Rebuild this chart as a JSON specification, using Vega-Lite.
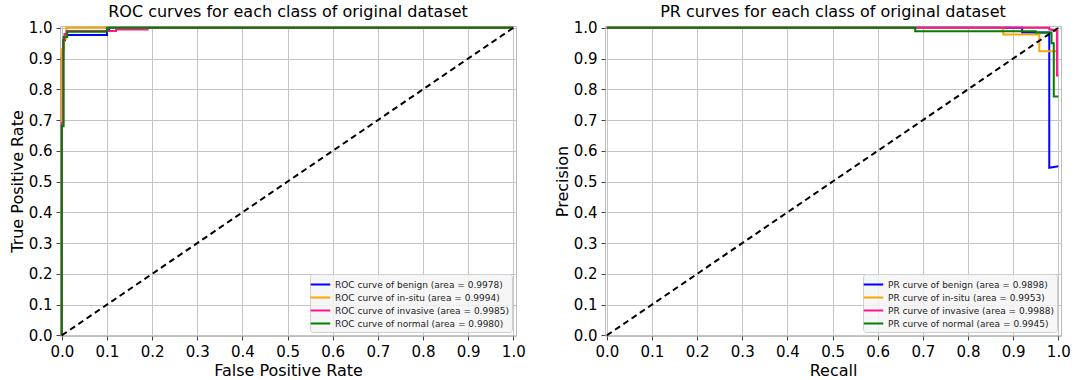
{
  "$schema": "https://vega.github.io/schema/vega-lite/v6.json",
  "background": "white",
  "padding": {"left": 8, "top": 3, "right": 5, "bottom": 2},
  "spacing": 27,
  "config": {
    "font": "DejaVu Sans",
    "view": {"stroke": "#bdbdbd", "strokeWidth": 1},
    "title": {"fontSize": 16, "fontWeight": "normal", "color": "black", "offset": 1, "font": "DejaVu Sans"},
    "axis": {
      "grid": true, "gridColor": "#c4c4c4", "gridWidth": 1,
      "domain": false, "tickColor": "#444", "tickSize": 4, "labelPadding": 4, "titlePadding": 3,
      "labelFontSize": 15, "labelColor": "black", "labelFont": "DejaVu Sans",
      "titleFontSize": 16, "titleColor": "black", "titleFontWeight": "normal", "titleFont": "DejaVu Sans",
      "labelFlush": false, "labelOverlap": false, "format": ".1f",
      "values": [0, 0.1, 0.2, 0.3, 0.4, 0.5, 0.6, 0.7, 0.8, 0.9, 1.0]
    },
    "legend": {
      "orient": "bottom-right", "offset": 4, "title": null,
      "fillColor": "rgba(245,245,245,0.85)", "strokeColor": "#d0d0d0", "cornerRadius": 3,
      "padding": 3, "rowPadding": 0, "labelFontSize": 9, "labelFont": "DejaVu Sans", "labelColor": "#222",
      "symbolType": "M-1.5,0H1.5", "symbolSize": 169, "symbolStrokeWidth": 2, "symbolFillColor": "transparent",
      "labelLimit": 400, "labelOffset": 7
    }
  },
  "datasets": {
    "curves": [
      {"panel": "ROC", "series": "ROC curve of benign (area = 0.9978)", "i": 0, "x": 0, "y": 0},
      {"panel": "ROC", "series": "ROC curve of benign (area = 0.9978)", "i": 1, "x": 0, "y": 0.9},
      {"panel": "ROC", "series": "ROC curve of benign (area = 0.9978)", "i": 2, "x": 0.003, "y": 0.9},
      {"panel": "ROC", "series": "ROC curve of benign (area = 0.9978)", "i": 3, "x": 0.003, "y": 0.96},
      {"panel": "ROC", "series": "ROC curve of benign (area = 0.9978)", "i": 4, "x": 0.007, "y": 0.96},
      {"panel": "ROC", "series": "ROC curve of benign (area = 0.9978)", "i": 5, "x": 0.007, "y": 0.977},
      {"panel": "ROC", "series": "ROC curve of benign (area = 0.9978)", "i": 6, "x": 0.1, "y": 0.977},
      {"panel": "ROC", "series": "ROC curve of benign (area = 0.9978)", "i": 7, "x": 0.1, "y": 0.99},
      {"panel": "ROC", "series": "ROC curve of benign (area = 0.9978)", "i": 8, "x": 0.105, "y": 0.99},
      {"panel": "ROC", "series": "ROC curve of benign (area = 0.9978)", "i": 9, "x": 0.105, "y": 1.0},
      {"panel": "ROC", "series": "ROC curve of benign (area = 0.9978)", "i": 10, "x": 1.0, "y": 1.0},

      {"panel": "ROC", "series": "ROC curve of in-situ (area = 0.9994)", "i": 0, "x": 0, "y": 0},
      {"panel": "ROC", "series": "ROC curve of in-situ (area = 0.9994)", "i": 1, "x": 0, "y": 0.93},
      {"panel": "ROC", "series": "ROC curve of in-situ (area = 0.9994)", "i": 2, "x": 0.005, "y": 0.93},
      {"panel": "ROC", "series": "ROC curve of in-situ (area = 0.9994)", "i": 3, "x": 0.005, "y": 0.965},
      {"panel": "ROC", "series": "ROC curve of in-situ (area = 0.9994)", "i": 4, "x": 0.01, "y": 0.965},
      {"panel": "ROC", "series": "ROC curve of in-situ (area = 0.9994)", "i": 5, "x": 0.01, "y": 1.0},
      {"panel": "ROC", "series": "ROC curve of in-situ (area = 0.9994)", "i": 6, "x": 1.0, "y": 1.0},

      {"panel": "ROC", "series": "ROC curve of invasive (area = 0.9985)", "i": 0, "x": 0, "y": 0},
      {"panel": "ROC", "series": "ROC curve of invasive (area = 0.9985)", "i": 1, "x": 0, "y": 0.69},
      {"panel": "ROC", "series": "ROC curve of invasive (area = 0.9985)", "i": 2, "x": 0.003, "y": 0.69},
      {"panel": "ROC", "series": "ROC curve of invasive (area = 0.9985)", "i": 3, "x": 0.003, "y": 0.96},
      {"panel": "ROC", "series": "ROC curve of invasive (area = 0.9985)", "i": 4, "x": 0.006, "y": 0.96},
      {"panel": "ROC", "series": "ROC curve of invasive (area = 0.9985)", "i": 5, "x": 0.006, "y": 0.98},
      {"panel": "ROC", "series": "ROC curve of invasive (area = 0.9985)", "i": 6, "x": 0.011, "y": 0.98},
      {"panel": "ROC", "series": "ROC curve of invasive (area = 0.9985)", "i": 7, "x": 0.011, "y": 0.99},
      {"panel": "ROC", "series": "ROC curve of invasive (area = 0.9985)", "i": 8, "x": 0.12, "y": 0.99},
      {"panel": "ROC", "series": "ROC curve of invasive (area = 0.9985)", "i": 9, "x": 0.12, "y": 0.995},
      {"panel": "ROC", "series": "ROC curve of invasive (area = 0.9985)", "i": 10, "x": 0.19, "y": 0.995},
      {"panel": "ROC", "series": "ROC curve of invasive (area = 0.9985)", "i": 11, "x": 0.19, "y": 1.0},
      {"panel": "ROC", "series": "ROC curve of invasive (area = 0.9985)", "i": 12, "x": 1.0, "y": 1.0},

      {"panel": "ROC", "series": "ROC curve of normal (area = 0.9980)", "i": 0, "x": 0, "y": 0},
      {"panel": "ROC", "series": "ROC curve of normal (area = 0.9980)", "i": 1, "x": 0, "y": 0.68},
      {"panel": "ROC", "series": "ROC curve of normal (area = 0.9980)", "i": 2, "x": 0.004, "y": 0.68},
      {"panel": "ROC", "series": "ROC curve of normal (area = 0.9980)", "i": 3, "x": 0.004, "y": 0.97},
      {"panel": "ROC", "series": "ROC curve of normal (area = 0.9980)", "i": 4, "x": 0.012, "y": 0.97},
      {"panel": "ROC", "series": "ROC curve of normal (area = 0.9980)", "i": 5, "x": 0.012, "y": 0.987},
      {"panel": "ROC", "series": "ROC curve of normal (area = 0.9980)", "i": 6, "x": 0.1, "y": 0.987},
      {"panel": "ROC", "series": "ROC curve of normal (area = 0.9980)", "i": 7, "x": 0.1, "y": 1.0},
      {"panel": "ROC", "series": "ROC curve of normal (area = 0.9980)", "i": 8, "x": 1.0, "y": 1.0},

      {"panel": "PR", "series": "PR curve of benign (area = 0.9898)", "i": 0, "x": 0, "y": 1.0},
      {"panel": "PR", "series": "PR curve of benign (area = 0.9898)", "i": 1, "x": 0.92, "y": 1.0},
      {"panel": "PR", "series": "PR curve of benign (area = 0.9898)", "i": 2, "x": 0.92, "y": 0.985},
      {"panel": "PR", "series": "PR curve of benign (area = 0.9898)", "i": 3, "x": 0.98, "y": 0.985},
      {"panel": "PR", "series": "PR curve of benign (area = 0.9898)", "i": 4, "x": 0.98, "y": 0.545},
      {"panel": "PR", "series": "PR curve of benign (area = 0.9898)", "i": 5, "x": 1.0, "y": 0.55},

      {"panel": "PR", "series": "PR curve of in-situ (area = 0.9953)", "i": 0, "x": 0, "y": 1.0},
      {"panel": "PR", "series": "PR curve of in-situ (area = 0.9953)", "i": 1, "x": 0.878, "y": 1.0},
      {"panel": "PR", "series": "PR curve of in-situ (area = 0.9953)", "i": 2, "x": 0.878, "y": 0.978},
      {"panel": "PR", "series": "PR curve of in-situ (area = 0.9953)", "i": 3, "x": 0.958, "y": 0.978},
      {"panel": "PR", "series": "PR curve of in-situ (area = 0.9953)", "i": 4, "x": 0.958, "y": 0.924},
      {"panel": "PR", "series": "PR curve of in-situ (area = 0.9953)", "i": 5, "x": 1.0, "y": 0.924},

      {"panel": "PR", "series": "PR curve of invasive (area = 0.9988)", "i": 0, "x": 0, "y": 1.0},
      {"panel": "PR", "series": "PR curve of invasive (area = 0.9988)", "i": 1, "x": 0.98, "y": 1.0},
      {"panel": "PR", "series": "PR curve of invasive (area = 0.9988)", "i": 2, "x": 0.98, "y": 0.995},
      {"panel": "PR", "series": "PR curve of invasive (area = 0.9988)", "i": 3, "x": 0.997, "y": 0.99},
      {"panel": "PR", "series": "PR curve of invasive (area = 0.9988)", "i": 4, "x": 0.997, "y": 0.845},
      {"panel": "PR", "series": "PR curve of invasive (area = 0.9988)", "i": 5, "x": 1.0, "y": 0.845},

      {"panel": "PR", "series": "PR curve of normal (area = 0.9945)", "i": 0, "x": 0, "y": 1.0},
      {"panel": "PR", "series": "PR curve of normal (area = 0.9945)", "i": 1, "x": 0.683, "y": 1.0},
      {"panel": "PR", "series": "PR curve of normal (area = 0.9945)", "i": 2, "x": 0.683, "y": 0.989},
      {"panel": "PR", "series": "PR curve of normal (area = 0.9945)", "i": 3, "x": 0.95, "y": 0.989},
      {"panel": "PR", "series": "PR curve of normal (area = 0.9945)", "i": 4, "x": 0.95, "y": 0.985},
      {"panel": "PR", "series": "PR curve of normal (area = 0.9945)", "i": 5, "x": 0.985, "y": 0.985},
      {"panel": "PR", "series": "PR curve of normal (area = 0.9945)", "i": 6, "x": 0.985, "y": 0.95},
      {"panel": "PR", "series": "PR curve of normal (area = 0.9945)", "i": 7, "x": 0.99, "y": 0.95},
      {"panel": "PR", "series": "PR curve of normal (area = 0.9945)", "i": 8, "x": 0.99, "y": 0.777},
      {"panel": "PR", "series": "PR curve of normal (area = 0.9945)", "i": 9, "x": 1.0, "y": 0.777}
    ],
    "chance": [
      {"i": 0, "x": 0, "y": 0},
      {"i": 1, "x": 1, "y": 1}
    ]
  },
  "hconcat": [
    {
      "width": 456,
      "height": 310,
      "title": "ROC curves for each class of original dataset",
      "layer": [
        {
          "data": {"name": "curves"},
          "transform": [{"filter": "datum.panel === 'ROC'"}],
          "mark": {"type": "line", "strokeWidth": 2, "clip": true, "interpolate": "linear"},
          "encoding": {
            "x": {"field": "x", "type": "quantitative", "scale": {"domain": [-0.004, 1.006], "nice": false, "zero": false}, "axis": {"title": "False Positive Rate"}},
            "y": {"field": "y", "type": "quantitative", "scale": {"domain": [-0.002, 1.006], "nice": false, "zero": false}, "axis": {"title": "True Positive Rate"}},
            "color": {
              "field": "series", "type": "nominal",
              "scale": {
                "domain": ["ROC curve of benign (area = 0.9978)", "ROC curve of in-situ (area = 0.9994)", "ROC curve of invasive (area = 0.9985)", "ROC curve of normal (area = 0.9980)"],
                "range": ["#0000ff", "#ffa500", "#ff1493", "#008000"]
              }
            },
            "order": {"field": "i", "type": "quantitative"}
          }
        },
        {
          "data": {"name": "chance"},
          "mark": {"type": "line", "color": "black", "strokeWidth": 2, "strokeDash": [6, 4], "clip": true},
          "encoding": {
            "x": {"field": "x", "type": "quantitative"},
            "y": {"field": "y", "type": "quantitative"},
            "order": {"field": "i", "type": "quantitative"}
          }
        }
      ]
    },
    {
      "width": 456,
      "height": 310,
      "title": "PR curves for each class of original dataset",
      "layer": [
        {
          "data": {"name": "curves"},
          "transform": [{"filter": "datum.panel === 'PR'"}],
          "mark": {"type": "line", "strokeWidth": 2, "clip": true, "interpolate": "linear"},
          "encoding": {
            "x": {"field": "x", "type": "quantitative", "scale": {"domain": [-0.004, 1.006], "nice": false, "zero": false}, "axis": {"title": "Recall"}},
            "y": {"field": "y", "type": "quantitative", "scale": {"domain": [-0.002, 1.006], "nice": false, "zero": false}, "axis": {"title": "Precision"}},
            "color": {
              "field": "series", "type": "nominal",
              "scale": {
                "domain": ["PR curve of benign (area = 0.9898)", "PR curve of in-situ (area = 0.9953)", "PR curve of invasive (area = 0.9988)", "PR curve of normal (area = 0.9945)"],
                "range": ["#0000ff", "#ffa500", "#ff1493", "#008000"]
              }
            },
            "order": {"field": "i", "type": "quantitative"}
          }
        },
        {
          "data": {"name": "chance"},
          "mark": {"type": "line", "color": "black", "strokeWidth": 2, "strokeDash": [6, 4], "clip": true},
          "encoding": {
            "x": {"field": "x", "type": "quantitative"},
            "y": {"field": "y", "type": "quantitative"},
            "order": {"field": "i", "type": "quantitative"}
          }
        }
      ]
    }
  ],
  "resolve": {"scale": {"color": "independent"}, "legend": {"color": "independent"}}
}
